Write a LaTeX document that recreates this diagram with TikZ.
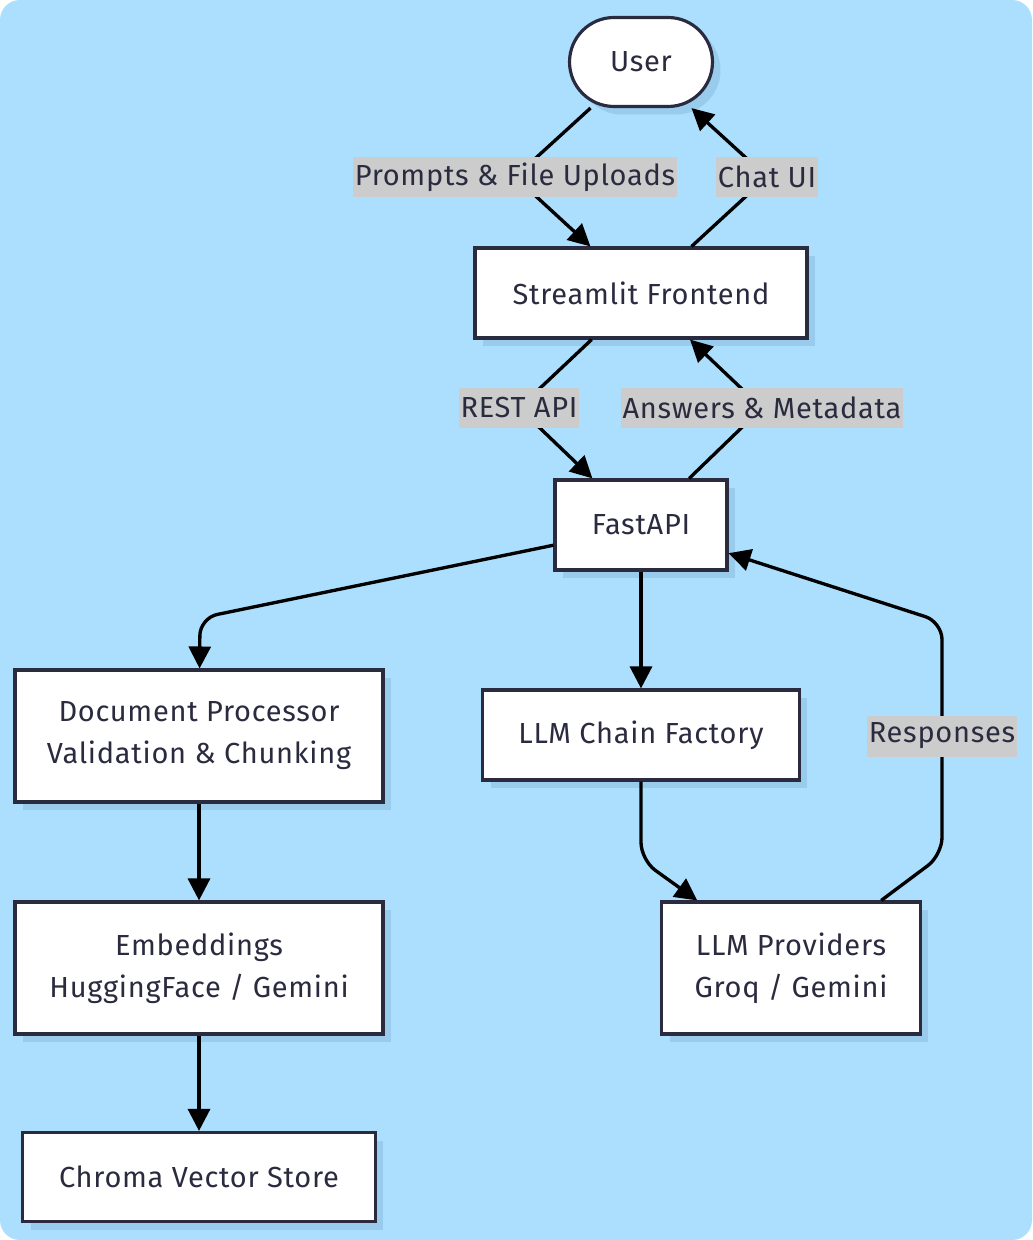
\documentclass[tikz,border=0pt]{standalone}
\usepackage{fontspec}
\setmainfont{Fira Sans}[LetterSpace=2.5]
\usetikzlibrary{arrows.meta,shadows}
\definecolor{bgblue}{RGB}{171,223,253}
\definecolor{shadeblue}{RGB}{152,203,236}
\definecolor{inkdark}{RGB}{43,43,64}
\definecolor{tagbg}{RGB}{204,204,204}

\begin{document}
\begin{tikzpicture}[x=0.02cm, y=-0.02cm,
    every node/.style={font=\fontsize{16.5}{24}\selectfont, text=inkdark},
    box/.style={draw=inkdark, line width=1.8pt, fill=white, align=center,
        general shadow={fill=shadeblue, shadow xshift=0.16cm, shadow yshift=-0.16cm}},
    tag/.style={fill=tagbg, inner xsep=1pt, inner ysep=0pt, minimum height=0.82cm},
    flow/.style={line width=1.9pt, rounded corners=0.35cm, -{Triangle[length=12.5pt,width=12.5pt]}}]
  \fill[white] (0,0) rectangle (1032,1240);
  \fill[bgblue, rounded corners=0.4cm] (0,0) rectangle (1032,1240);
  \useasboundingbox (0,0) rectangle (1032,1240);

  \node[box, rounded corners=0.89cm, minimum width=2.86cm, minimum height=1.78cm] (user) at (641,62) {User};
  \node[box, minimum width=6.64cm, minimum height=1.8cm] (front) at (641,293) {Streamlit Frontend};
  \node[box, minimum width=3.44cm, minimum height=1.8cm] (api) at (641,525) {FastAPI};
  \node[box, minimum width=7.36cm, minimum height=2.64cm] (docproc) at (199,736) {Document Processor\\Validation \& Chunking};
  \node[box, minimum width=6.34cm, minimum height=1.8cm] (chain) at (641,735) {LLM Chain Factory};
  \node[box, minimum width=7.36cm, minimum height=2.64cm] (embed) at (199,968) {Embeddings\\HuggingFace / Gemini};
  \node[box, minimum width=5.18cm, minimum height=2.64cm] (llms) at (791,968) {LLM Providers\\Groq / Gemini};
  \node[box, minimum width=7.06cm, minimum height=1.78cm] (chroma) at (199,1177) {Chroma Vector Store};

  \coordinate (upL) at (515,177);
  \coordinate (upR) at (767,177);
  \coordinate (midL) at (519,408);
  \coordinate (midR) at (762,408);
  \coordinate (docbend) at (200,618);
  \coordinate (chainbend) at (641,860);
  \coordinate (resplow) at (942,855);
  \coordinate (resphigh) at (942,622);

  \draw[flow] (user) -- (upL) -- (front);
  \draw[flow] (front) -- (upR) -- (user);
  \draw[flow] (front) -- (midL) -- (api);
  \draw[flow] (api) -- (midR) -- (front);
  \draw[flow] (api.-167) -- (docbend) -- (docproc);
  \draw[flow] (api) -- (chain);
  \draw[flow] (chain) -- (chainbend) -- (llms);
  \draw[flow] (llms) -- (resplow) -- (resphigh) -- (api);
  \draw[flow] (docproc) -- (embed);
  \draw[flow] (embed) -- (chroma);

  \node[tag] (tagup) at (upL) {Prompts \& File Uploads};
  \node[tag] (tagchat) at (upR) {Chat UI};
  \node[tag] (tagrest) at (midL) {REST API};
  \node[tag] (tagans) at (midR) {Answers \& Metadata};
  \node[tag] (tagresp) at (942,736) {Responses};
\end{tikzpicture}
\end{document}
